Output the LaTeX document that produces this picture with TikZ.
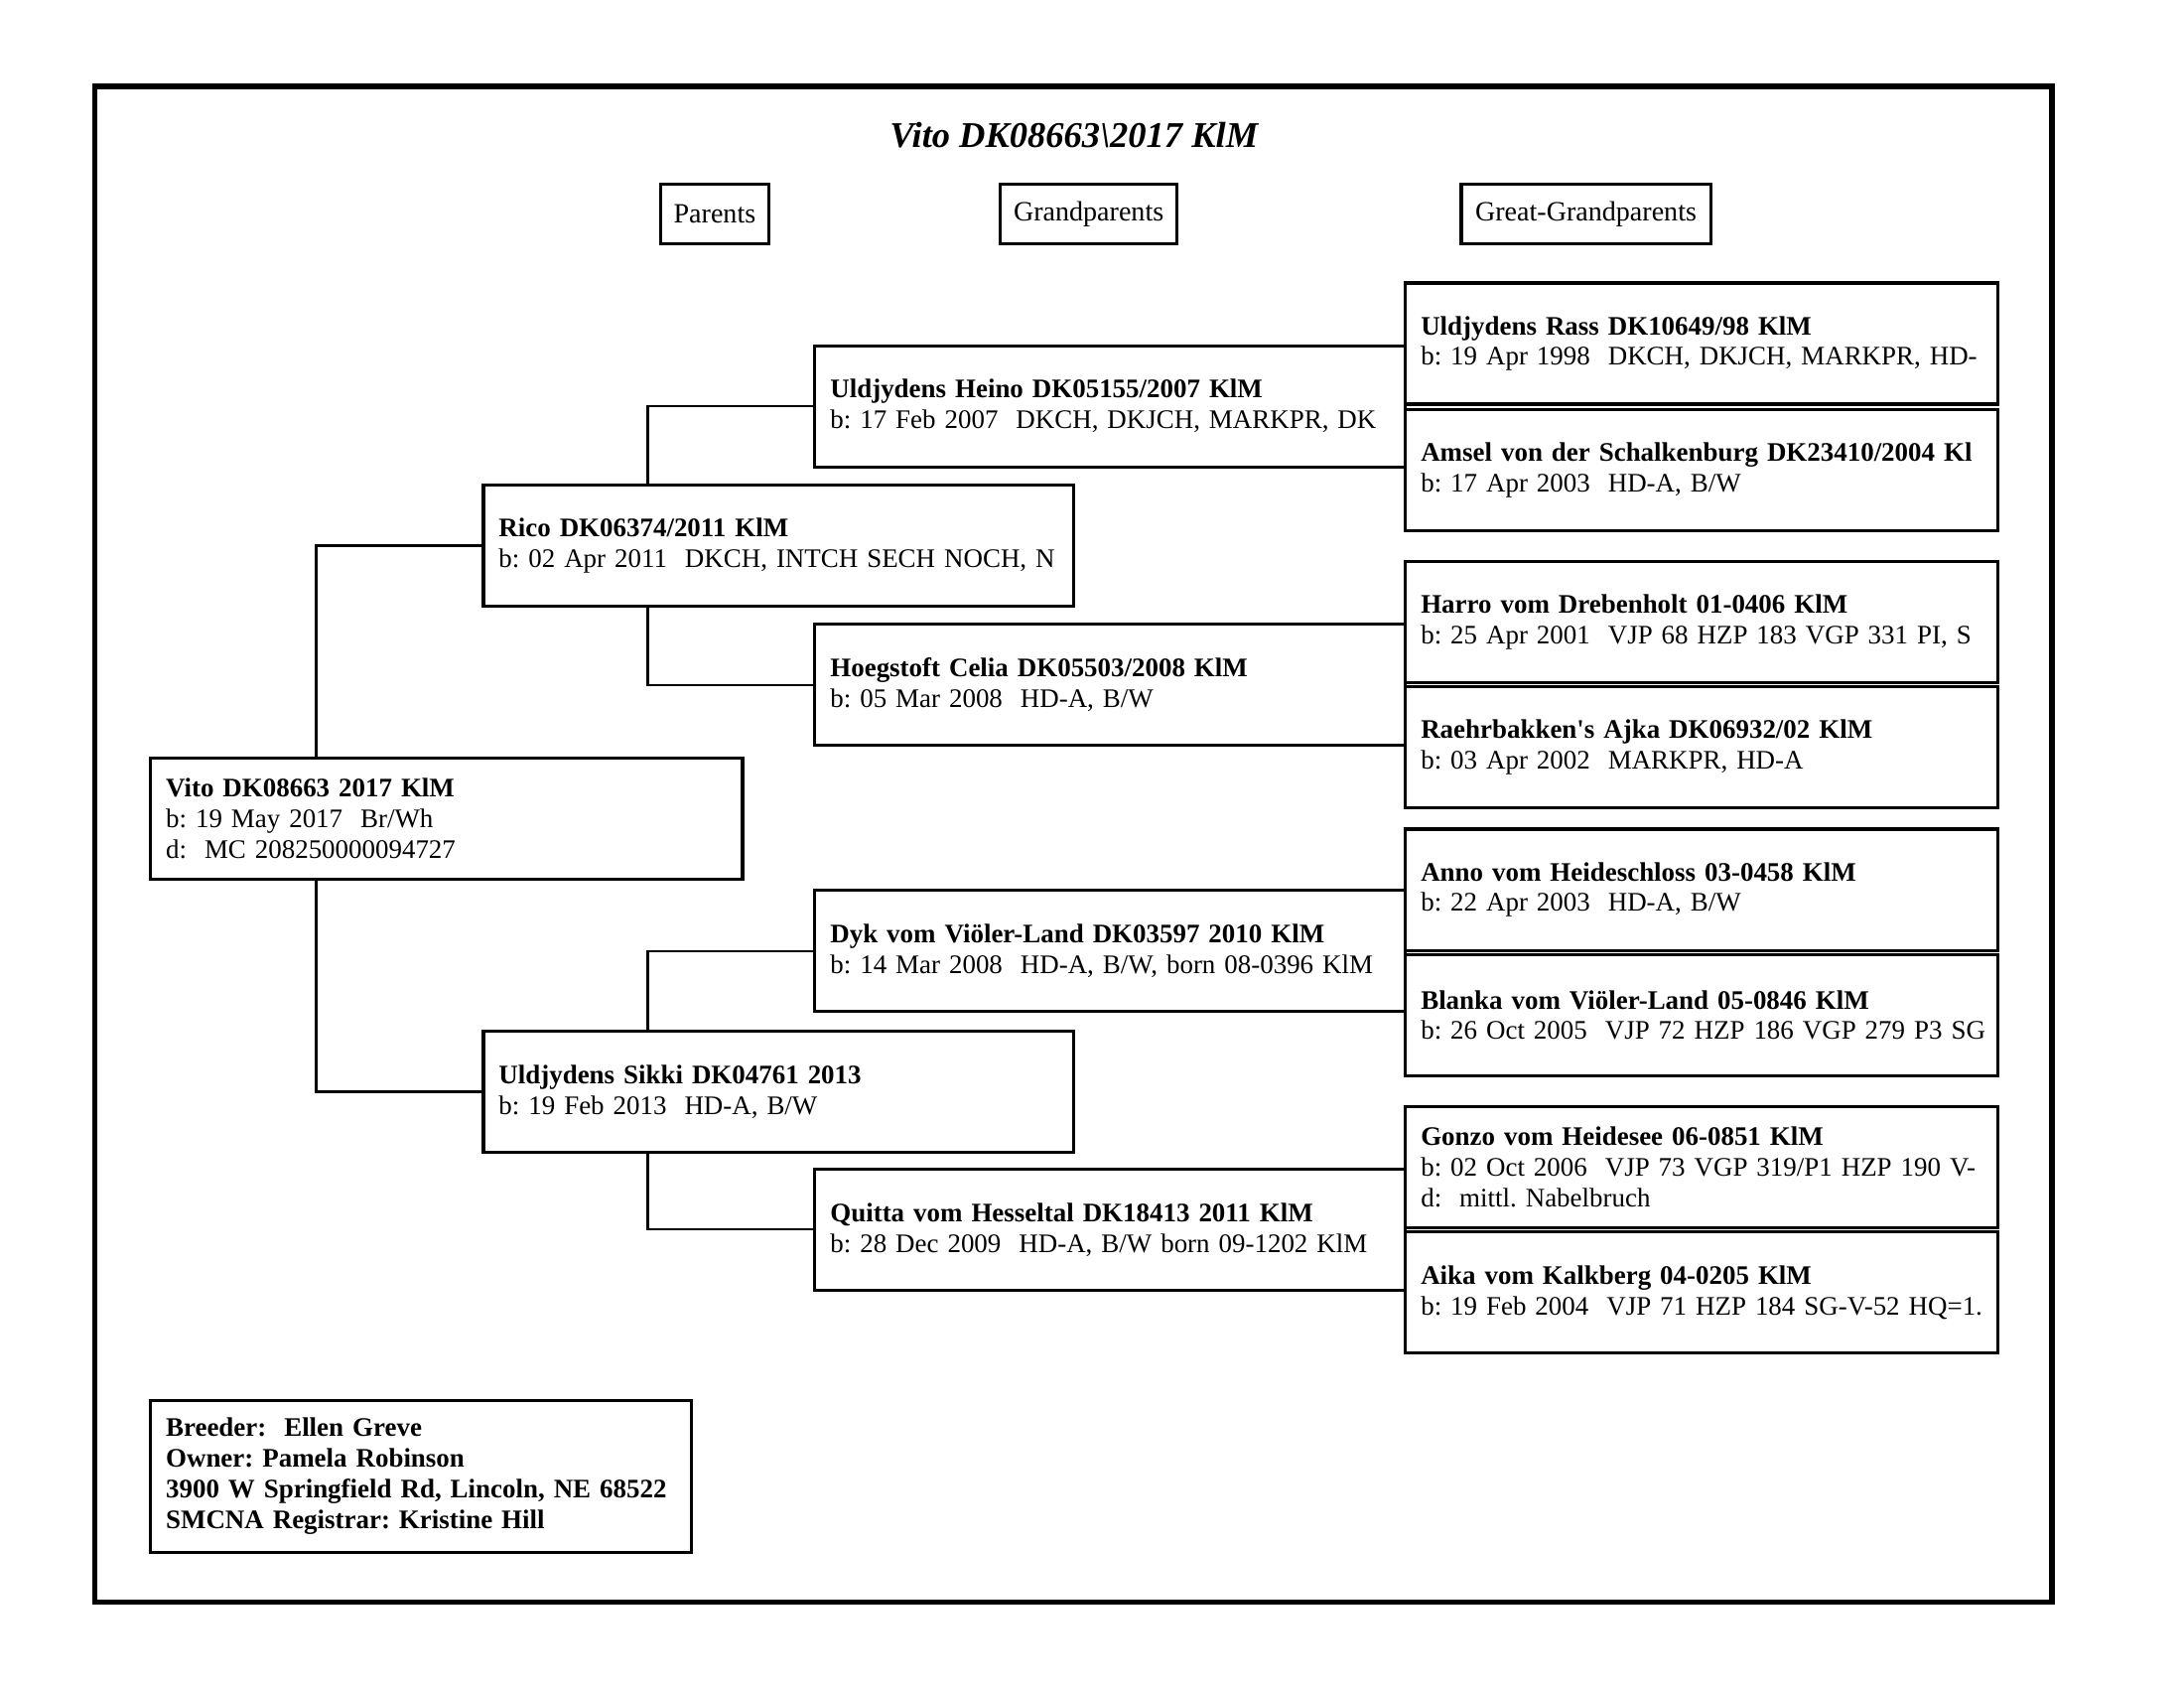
\documentclass[tikz,border=0pt]{standalone}
\usepackage{fontspec}
\setmainfont{Liberation Serif}
\frenchspacing
\tikzset{dog/.style={draw, line width=1.1pt, anchor=north west, text width=201.5pt, inner xsep=5.5pt, inner ysep=0pt,
  minimum height=43.5pt, align=left, font=\fontsize{9.6}{11}\selectfont},
%header boxes over the columns
gen/.style={draw, line width=1.1pt, anchor=north west, minimum height=21.5pt, inner sep=0pt, font=\fontsize{10}{11}\selectfont},
link/.style={line width=0.8pt}}
\newcommand{\dogline}[2]{\mbox{\textbf{#1}}\\\mbox{#2}}

\begin{document}
\begin{tikzpicture}[x=0.5pt,y=-0.5pt]
\useasboundingbox (0,0) rectangle (1568,1211.6);
\draw [line width=2pt] (68,62) rectangle (1473,1150);

\node [font=\fontsize{13}{15}\selectfont\bfseries\itshape] (title) at (771,97) {Vito DK08663\textbackslash 2017 KlM};

%column headers
\node [gen, minimum width=39pt] (hpar) at (473,131) {Parents};
\node [gen, minimum width=63.5pt] (hgrand) at (717,131) {Grandparents};
\node [gen, minimum width=89.5pt] (hgreat) at (1048,131) {Great-Grandparents};

% subject
\node [dog] (vito) at (107,543) {\dogline{Vito DK08663 2017 KlM}{b: 19 May 2017\ \ Br/Wh}\\\mbox{d:\ \ MC 208250000094727}};

% parents
\node [dog, text width=201pt] (rico) at (346,347) {\dogline{Rico DK06374/2011 KlM}{b: 02 Apr 2011\ \ DKCH, INTCH SECH NOCH, N}};
\node [dog, text width=201pt] (sikki) at (346,739) {\dogline{Uldjydens Sikki DK04761 2013}{b: 19 Feb 2013\ \ HD-A, B/W}};

% grandparents
\node [dog, text width=201pt] (heino) at (584,247) {\dogline{Uldjydens Heino DK05155/2007 KlM}{b: 17 Feb 2007\ \ DKCH, DKJCH, MARKPR, DK}};
\node [dog, text width=201pt] (celia) at (584,447) {\dogline{Hoegstoft Celia DK05503/2008 KlM}{b: 05 Mar 2008\ \ HD-A, B/W}};
\node [dog, text width=201pt] (dyk) at (584,638) {\dogline{Dyk vom Viöler-Land DK03597 2010 KlM}{b: 14 Mar 2008\ \ HD-A, B/W, born 08-0396 KlM}};
\node [dog, text width=201pt] (quitta) at (584,838) {\dogline{Quitta vom Hesseltal DK18413 2011 KlM}{b: 28 Dec 2009\ \ HD-A, B/W born 09-1202 KlM}};

% great-grandparents
\node [dog] (rass) at (1008,202) {\dogline{Uldjydens Rass DK10649/98 KlM}{b: 19 Apr 1998\ \ DKCH, DKJCH, MARKPR, HD-}};
\node [dog] (amsel) at (1008,293) {\dogline{Amsel von der Schalkenburg DK23410/2004 Kl}{b: 17 Apr 2003\ \ HD-A, B/W}};
\node [dog] (harro) at (1008,402) {\dogline{Harro vom Drebenholt 01-0406 KlM}{b: 25 Apr 2001\ \ VJP 68 HZP 183 VGP 331 PI, S}};
\node [dog] (ajka) at (1008,492) {\dogline{Raehrbakken\textquotesingle s Ajka DK06932/02 KlM}{b: 03 Apr 2002\ \ MARKPR, HD-A}};
\node [dog] (anno) at (1008,594) {\dogline{Anno vom Heideschloss 03-0458 KlM}{b: 22 Apr 2003\ \ HD-A, B/W}};
\node [dog] (blanka) at (1008,684) {\dogline{Blanka vom Viöler-Land 05-0846 KlM}{b: 26 Oct 2005\ \ VJP 72 HZP 186 VGP 279 P3 SG}};
\node [dog] (gonzo) at (1008,793) {\dogline{Gonzo vom Heidesee 06-0851 KlM}{b: 02 Oct 2006\ \ VJP 73 VGP 319/P1 HZP 190 V-}\\\mbox{d:\ \ mittl. Nabelbruch}};
\node [dog] (aika) at (1008,883) {\dogline{Aika vom Kalkberg 04-0205 KlM}{b: 19 Feb 2004\ \ VJP 71 HZP 184 SG-V-52 HQ=1.}};

% breeder / owner
\node [dog, text width=183pt, minimum height=54.5pt, font=\fontsize{9.6}{11}\selectfont\bfseries] (owner) at (107,1004)
  {\mbox{Breeder:\ \ Ellen Greve}\\\mbox{Owner: Pamela Robinson}\\\mbox{3900 W Springfield Rd, Lincoln, NE 68522}\\\mbox{SMCNA Registrar: Kristine Hill}};

% connectors
\draw [link] ([xshift=60pt]vito.north west) |- (rico.west);
\draw [link] ([xshift=60pt]vito.south west) |- (sikki.west);
\draw [link] ([xshift=59.5pt]rico.north west) |- (heino.west);
\draw [link] ([xshift=59.5pt]rico.south west) |- (celia.west);
\draw [link] ([xshift=59.5pt]sikki.north west) |- (dyk.west);
\draw [link] ([xshift=59.5pt]sikki.south west) |- (quitta.west);
\end{tikzpicture}
\end{document}
